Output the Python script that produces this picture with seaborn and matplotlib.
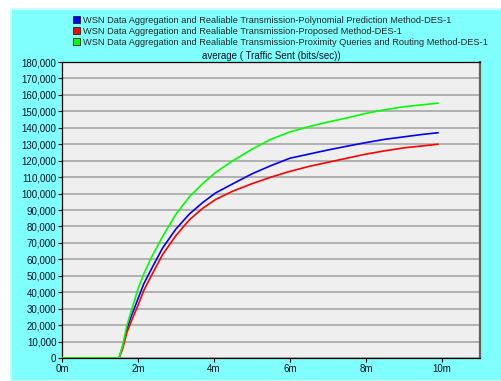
import pandas as pd
import numpy as np
import seaborn as sns
import matplotlib.pyplot as plt
import matplotlib as mpl
from matplotlib.patches import Patch, Rectangle

# time in minutes and traffic sent in thousand bits/sec
minutes = [0, 1.5, 1.6, 1.7, 1.8, 2.0, 2.15, 2.35, 2.65, 3.0, 3.35, 3.7, 4.05,
           4.5, 5.0, 5.5, 6.0, 6.5, 7.0, 7.5, 8.0, 8.5, 9.0, 9.5, 9.9]
polynomial = [0, 0, 7, 17, 24, 36, 45, 54, 67, 78.5, 87.5, 94.5, 100.5,
              106, 112, 117, 121.5, 124, 126.5, 128.8, 131, 133, 134.5, 136, 137]
proposed = [0, 0, 6, 15, 21, 32, 41, 50, 63, 74.5, 84, 91, 96.5,
            101.5, 106, 110, 113.5, 116.5, 119, 121.5, 124, 126, 127.8, 129, 130]
proximity = [0, 0, 8, 19, 27, 42, 51, 61, 74, 87.5, 98, 106, 113,
             120, 127, 133, 137.5, 140.7, 143.5, 146, 148.8, 151, 152.8, 154, 155]

series_names = [
    'WSN Data Aggregation and Realiable Transmission-Polynomial Prediction Method-DES-1',
    'WSN Data Aggregation and Realiable Transmission-Proposed Method-DES-1',
    'WSN Data Aggregation and Realiable Transmission-Proximity Queries and Routing Method-DES-1',
]
series_colors = ['#0000ff', '#ff0000', '#00ff00']
y_ticks = np.arange(0, 180001, 10000)
x_ticks = [0, 2, 4, 6, 8, 10]
x_tick_labels = ['0m', '2m', '4m', '6m', '8m', '10m']
title = 'average ( Traffic Sent (bits/sec))'

frames = []
for name, vals in zip(series_names, [polynomial, proposed, proximity]):
    frames.append(pd.DataFrame({'Time': minutes,
                                'Traffic': np.array(vals) * 1000,
                                'Series': name}))
df = pd.concat(frames, ignore_index=True)
palette = dict(zip(series_names, series_colors))

sns.set_theme(style='white')
plt.rcParams['font.family'] = ['Liberation Sans', 'DejaVu Sans']

fig = plt.figure(figsize=(5.02, 3.81), dpi=100)
fig.patch.set_facecolor('white')
# cyan panel behind everything
fig.add_artist(Rectangle((11 / 502, 0), 1 - 11 / 502, (381 - 9) / 381,
                         transform=fig.transFigure, facecolor='#80ffff',
                         edgecolor='#c8ffff', lw=1.5, zorder=-10))

ax = fig.add_axes([62 / 502, 23 / 381, 418 / 502, 296 / 381])
ax.set_facecolor('#efefef')

sns.lineplot(data=df, x='Time', y='Traffic', hue='Series', palette=palette,
             linewidth=1.2, legend=False, ax=ax, zorder=3)

ax.set_xlim(0, 11.0)
ax.set_ylim(0, 180000)
ax.set_yticks(y_ticks)
ax.set_xticks(x_ticks)
ax.set_xticklabels(x_tick_labels)
ax.yaxis.set_major_formatter(mpl.ticker.FuncFormatter(lambda x, p: format(int(x), ',')))
ax.grid(axis='y', color='#a0a0a0', lw=1.1)
ax.grid(axis='x', visible=False)
ax.tick_params(axis='both', which='major', length=3, width=0.8, color='black',
               labelsize=7, labelcolor='#101020', pad=1, direction='out',
               bottom=True, left=True)
ax.set_xlabel('')
ax.set_ylabel('')
for side in ['top', 'left', 'bottom']:
    ax.spines[side].set_color('black')
    ax.spines[side].set_linewidth(0.9)
ax.spines['right'].set_color('#606060')
ax.spines['right'].set_linewidth(1.6)

fig.text(271 / 502, 1 - 56 / 381, title, ha='center', va='center',
         fontsize=7, color='#101020')

handles = [Patch(facecolor=c, edgecolor='#202020', lw=0.6) for c in series_colors]
fig.legend(handles, series_names, loc='upper left',
           bbox_to_anchor=(73 / 502, 1 - 16 / 381), frameon=False,
           fontsize=6.7, handlelength=0.75, handleheight=0.75,
           handletextpad=0.35, labelspacing=0.22, borderaxespad=0,
           borderpad=0)

fig.savefig('out.png', dpi=100)
